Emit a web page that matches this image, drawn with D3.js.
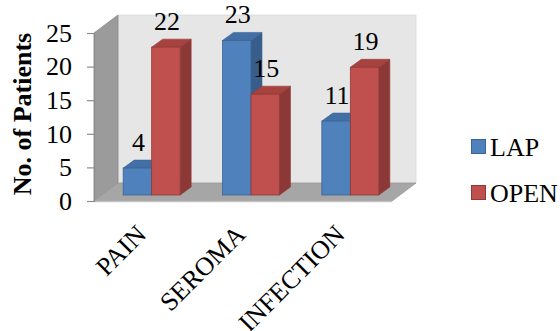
<!DOCTYPE html>
<html>
<head>
<meta charset="utf-8">
<script src="https://cdn.jsdelivr.net/npm/d3@7"></script>
<style>
  html, body { margin: 0; padding: 0; background: #fff; }
  svg { display: block; font-family: "Liberation Serif", "Times New Roman", serif; }
</style>
</head>
<body>
<svg id="chart" width="560" height="331"></svg>
<script>
// Complications by surgical approach
const categories = ["PAIN", "SEROMA", "INFECTION"];
const seriesNames = ["LAP", "OPEN"];
const lapValues = [4, 23, 11];
const openValues = [22, 15, 19];
const yTicks = [0, 5, 10, 15, 20, 25];
const yTitle = "No. of Patients";

const colors = {
  LAP:  { front: "#4f81bd", side: "#385d8a", top: "#4270a6", stroke: "#3a6594" },
  OPEN: { front: "#c0504d", side: "#8c3836", top: "#a8423f", stroke: "#8f3a38" }
};
const FONT = "'Liberation Serif', 'Times New Roman', serif";

const svg = d3.select("#chart");

// 3D box geometry (front plane + receding depth)
const front = { left: 94, right: 392, bottom: 201, top: 33 };
const depth = { dx: 24, dy: -18 };
const barDepth = { dx: 11, dy: -8 };
const barShift = { dx: 8, dy: -6 };   // bars sit one third into the box

const x = d3.scaleBand().domain(categories).range([front.left, front.right]);
const xs = d3.scaleBand().domain(seriesNames).range([0, 57]);
const y = d3.scaleLinear().domain([0, 25]).range([front.bottom, front.top]);

const g = svg.append("g");
const pts = a => a.map(p => p.join(",")).join(" ");

// back wall
g.append("polygon")
  .attr("points", pts([
    [front.left + depth.dx, y(25) + depth.dy],
    [front.right + depth.dx, y(25) + depth.dy],
    [front.right + depth.dx, front.bottom + depth.dy],
    [front.left + depth.dx, front.bottom + depth.dy]
  ]))
  .attr("fill", "#e6e6e6")
  .attr("stroke", "#dadada")
  .attr("stroke-width", 0.8);

// side wall
g.append("polygon")
  .attr("points", pts([
    [front.left, y(25)],
    [front.left + depth.dx, y(25) + depth.dy],
    [front.left + depth.dx, front.bottom + depth.dy],
    [front.left, front.bottom]
  ]))
  .attr("fill", "#9b9b9b")
  .attr("stroke", "#8c8c8c")
  .attr("stroke-width", 0.8);

// floor
g.append("polygon")
  .attr("points", pts([
    [front.left, front.bottom],
    [front.left + depth.dx, front.bottom + depth.dy],
    [front.right + depth.dx, front.bottom + depth.dy],
    [front.right, front.bottom]
  ]))
  .attr("fill", "#a6a6a6")
  .attr("stroke", "#999")
  .attr("stroke-width", 0.8);
g.append("line")
  .attr("x1", front.left).attr("x2", front.right)
  .attr("y1", front.bottom + 0.5).attr("y2", front.bottom + 0.5)
  .attr("stroke", "#c4c4c4").attr("stroke-width", 1.5);

// y axis
const yAxis = d3.axisLeft(y).tickValues(yTicks).tickSize(7).tickPadding(15);
const ax = svg.append("g")
  .attr("transform", `translate(${front.left},0)`)
  .call(yAxis);
ax.select(".domain").attr("stroke", "#8c8c8c").attr("stroke-width", 1.2);
ax.selectAll(".tick line").attr("stroke", "#8c8c8c").attr("stroke-width", 1.2);
ax.selectAll(".tick text")
  .attr("font-family", FONT)
  .attr("font-size", 26).attr("fill", "#000");

// y title
svg.append("text")
  .attr("transform", `translate(31,${(front.top + front.bottom) / 2 - 3}) rotate(-90)`)
  .attr("text-anchor", "middle")
  .attr("font-family", FONT)
  .attr("font-size", 26)
  .attr("font-weight", "bold")
  .text(yTitle);

// bars
const rows = [];
seriesNames.forEach((s, si) => {
  const vals = si === 0 ? lapValues : openValues;
  categories.forEach((c, ci) => rows.push({ series: s, cat: c, value: vals[ci] }));
});

const bars = g.selectAll("g.bar")
  .data(rows)
  .join("g")
  .attr("class", "bar");

bars.each(function (d) {
  const sel = d3.select(this);
  const col = colors[d.series];
  const x0 = x(d.cat) + (x.bandwidth() - 57) / 2 + xs(d.series) + barShift.dx;
  const w = xs.bandwidth();
  const base = front.bottom + barShift.dy;
  const top = y(d.value) + barShift.dy;
  sel.append("polygon")
    .attr("points", pts([[x0 + w, top], [x0 + w + barDepth.dx, top + barDepth.dy],
                         [x0 + w + barDepth.dx, base + barDepth.dy], [x0 + w, base]]))
    .attr("fill", col.side).attr("stroke", col.stroke).attr("stroke-width", 0.6);
  sel.append("polygon")
    .attr("points", pts([[x0, top], [x0 + barDepth.dx, top + barDepth.dy],
                         [x0 + w + barDepth.dx, top + barDepth.dy], [x0 + w, top]]))
    .attr("fill", col.top).attr("stroke", col.stroke).attr("stroke-width", 0.6);
  sel.append("rect")
    .attr("x", x0).attr("y", top)
    .attr("width", w).attr("height", base - top)
    .attr("fill", col.front).attr("stroke", col.stroke).attr("stroke-width", 0.8);
  sel.append("text")
    .attr("x", x0 + w / 2 + 1)
    .attr("y", top - 17)
    .attr("text-anchor", "middle")
    .attr("font-family", FONT)
    .attr("font-size", 26)
    .text(d.value);
});

// category labels
svg.selectAll("text.cat")
  .data(categories)
  .join("text")
  .attr("class", "cat")
  .attr("transform", c => `translate(${x(c) + x.bandwidth() / 2 + 4},${front.bottom + 35}) rotate(-45)`)
  .attr("text-anchor", "end")
  .attr("font-family", FONT)
  .attr("font-size", 26)
  .text(c => c);

// legend
const legend = svg.append("g").attr("transform", "translate(471,139)");
seriesNames.forEach((s, i) => {
  const row = legend.append("g").attr("transform", `translate(0,${i * 46})`);
  row.append("rect")
    .attr("x", 0.5).attr("y", 0.5).attr("width", 14).attr("height", 14)
    .attr("fill", colors[s].front).attr("stroke", colors[s].stroke);
  row.append("text")
    .attr("x", 19).attr("y", 17)
    .attr("font-family", FONT)
    .attr("font-size", 26)
    .text(s);
});
</script>
</body>
</html>
